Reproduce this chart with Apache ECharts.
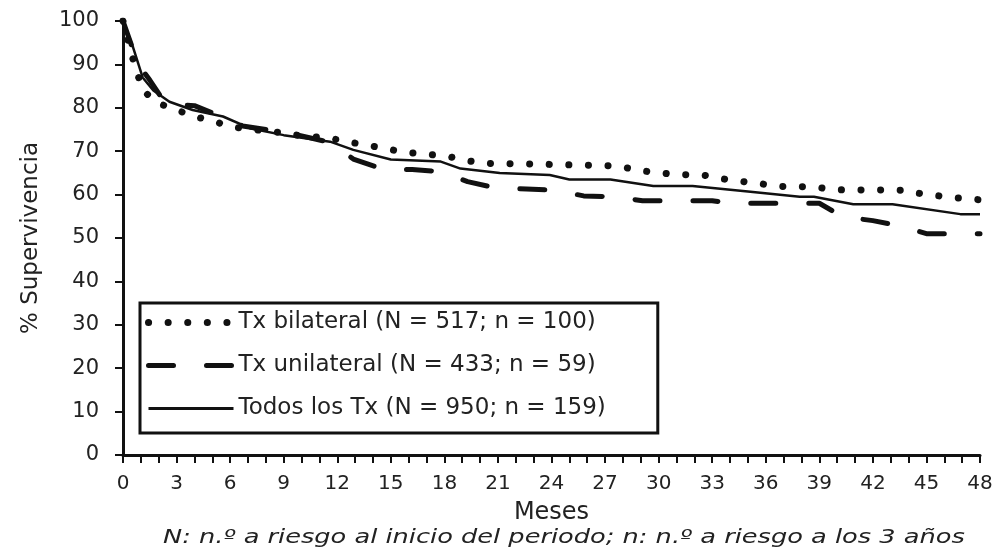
<!DOCTYPE html>
<html>
<head>
<meta charset="utf-8">
<script src="https://cdn.jsdelivr.net/npm/echarts@6/dist/echarts.min.js"></script>
<style>
  html, body { margin: 0; padding: 0; background: #fff; }
  #chart { width: 1000px; height: 550px; }
</style>
</head>
<body>
<div id="chart"></div>
<script>
// survival curves (months, % survival)
const bilateralMonths = [0, 0.5, 1.1, 2, 3, 4, 5, 6.1, 7.2, 8.3, 9.5, 10.5, 11.6, 12.5, 13.7, 14.8, 15.9, 17, 18.2, 19.3, 20.2, 23.5, 27.7, 29, 31, 32.5, 33.3, 34.5, 35.6, 36.6, 38.6, 39.9, 43.9, 44.4, 45.5, 46.5, 48];
const bilateralValues = [100, 92, 84, 81, 79.5, 78, 77, 75.6, 75, 74.6, 73.8, 73.4, 73, 72.2, 71.4, 70.5, 69.7, 69.3, 68.8, 67.8, 67.2, 67, 66.6, 65.5, 64.6, 64.5, 63.8, 63.1, 62.6, 61.9, 61.8, 61.1, 61, 60.4, 59.8, 59.3, 58.8];

const unilateralMonths = [0, 0.85, 1.5, 2.4, 4, 5.5, 6.7, 8, 9.5, 11.6, 12.9, 14.6, 16.2, 17.8, 19.3, 21, 22.6, 24.2, 25.8, 27.5, 29.1, 33, 34, 39, 40.3, 42, 43.5, 45, 48];
const unilateralValues = [100, 90, 86.4, 80.8, 80.5, 78, 75.8, 75, 74, 72, 68.2, 65.8, 65.8, 65.3, 63, 61.4, 61.3, 61, 59.7, 59.5, 58.6, 58.6, 58, 58, 54.9, 54, 52.8, 51, 51];

const todosMonths = [0, 0.56, 1.1, 1.7, 2.6, 3.9, 5.6, 7.1, 9, 11.6, 12.9, 15, 17.8, 18.9, 21.1, 23.9, 25, 27.3, 29.7, 31.9, 35, 37.9, 38.7, 40.9, 43.1, 46.9, 48];
const todosValues = [100, 94, 87, 84, 81.4, 79.5, 78, 75.3, 73.7, 72.2, 70.3, 68.1, 67.6, 66, 65, 64.5, 63.5, 63.5, 62, 62, 60.7, 59.5, 59.5, 57.8, 57.8, 55.5, 55.5];

const seriesNames = [
  "Tx bilateral (N = 517; n = 100)",
  "Tx unilateral (N = 433; n = 59)",
  "Todos los Tx (N = 950; n = 159)"
];
const footnote = "N: n.º a riesgo al inicio del periodo; n: n.º a riesgo a los 3 años";

function pairs(xs, ys) {
  return xs.map((x, i) => [x, ys[i]]);
}

const font = "DejaVu Sans";
const ink = "#111";

const dotStyle = { color: ink, width: 7, type: [0.1, 19.5], cap: "round" };
const dashStyle = { color: ink, width: 5, type: [25, 33], cap: "round" };
const solidStyle = { color: ink, width: 2.5, type: "solid" };

const chart = echarts.init(document.getElementById("chart"));

const option = {
  animation: false,
  backgroundColor: "#fff",
  grid: { left: 123, right: 20, top: 21, bottom: 95 },
  legend: {
    orient: "vertical",
    left: 140,
    top: 303,
    itemWidth: 85,
    itemHeight: 20,
    itemGap: 20,
    padding: [8, 52, 13, 5],
    borderColor: ink,
    borderWidth: 3,
    itemStyle: { color: "rgba(0,0,0,0)", borderWidth: 0 },
    textStyle: { fontFamily: font, fontSize: 23, color: "#222" },
    data: [
      { name: seriesNames[0], lineStyle: dotStyle },
      { name: seriesNames[1], lineStyle: dashStyle },
      { name: seriesNames[2], lineStyle: { color: ink, width: 3, type: "solid" } }
    ]
  },
  xAxis: {
    type: "value",
    min: 0,
    max: 48,
    interval: 3,
    name: "Meses",
    nameLocation: "middle",
    nameGap: 46,
    nameTextStyle: { fontFamily: font, fontSize: 24, color: "#222" },
    axisLine: { lineStyle: { color: ink, width: 3 } },
    axisTick: { length: 8, lineStyle: { color: ink, width: 2 } },
    minorTick: { show: true, splitNumber: 3, length: 8, lineStyle: { color: ink, width: 2 } },
    axisLabel: { fontFamily: font, fontSize: 20, color: "#222", margin: 19 },
    splitLine: { show: false }
  },
  yAxis: {
    type: "value",
    min: 0,
    max: 100,
    interval: 10,
    name: "% Supervivencia",
    nameLocation: "middle",
    nameGap: 80,
    nameTextStyle: { fontFamily: font, fontSize: 23, color: "#222" },
    axisLine: { show: true, lineStyle: { color: ink, width: 3 } },
    axisTick: { show: true, length: 8, lineStyle: { color: ink, width: 2 } },
    axisLabel: { fontFamily: font, fontSize: 21, color: "#222", margin: 24 },
    splitLine: { show: false }
  },
  series: [
    {
      name: seriesNames[0],
      type: "line",
      symbol: "none",
      data: pairs(bilateralMonths, bilateralValues),
      lineStyle: dotStyle,
      itemStyle: { color: ink },
      z: 3
    },
    {
      name: seriesNames[1],
      type: "line",
      symbol: "none",
      data: pairs(unilateralMonths, unilateralValues),
      lineStyle: dashStyle,
      itemStyle: { color: ink },
      z: 2
    },
    {
      name: seriesNames[2],
      type: "line",
      symbol: "none",
      data: pairs(todosMonths, todosValues),
      lineStyle: solidStyle,
      itemStyle: { color: ink },
      z: 4
    }
  ],
  graphic: [
    {
      type: "text",
      x: 163,
      y: 529,
      scaleX: 1.35,
      style: {
        text: footnote,
        fontFamily: font,
        fontStyle: "italic",
        fontSize: 19,
        fill: "#222"
      }
    }
  ]
};

chart.setOption(option);
</script>
</body>
</html>
